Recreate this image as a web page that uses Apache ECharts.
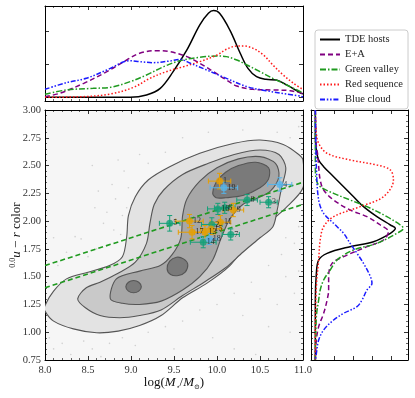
<!DOCTYPE html>
<html>
<head>
<meta charset="utf-8">
<script src="https://cdn.jsdelivr.net/npm/echarts@6/dist/echarts.min.js"></script>
<style>
html, body { margin: 0; padding: 0; background: #fff; }
#chart { width: 415px; height: 398px; }
</style>
</head>
<body>
<div id="chart"></div>
<script>
// top panel: stellar mass distributions, [log M, density]
const topTDE = [[8.0,0.003],[8.99,0.003],[9.18,0.038],[9.34,0.139],[9.49,0.391],[9.65,0.72],[9.80,1.10],[9.90,1.275],[9.96,1.316],[10.03,1.275],[10.15,1.02],[10.27,0.67],[10.36,0.442],[10.46,0.316],[10.57,0.275],[10.69,0.265],[10.81,0.19],[10.98,0.063],[11.0,0.055]];
const topEA = [[8.0,0.013],[8.17,0.063],[8.45,0.215],[8.72,0.391],[8.95,0.568],[9.10,0.67],[9.30,0.71],[9.45,0.695],[9.65,0.619],[9.80,0.518],[9.96,0.391],[10.11,0.265],[10.23,0.174],[10.42,0.124],[10.65,0.114],[10.85,0.103],[11.0,0.06]];
const topGV = [[8.0,0.048],[8.25,0.114],[8.56,0.139],[8.76,0.154],[8.99,0.24],[9.18,0.341],[9.38,0.467],[9.57,0.558],[9.80,0.609],[10.0,0.629],[10.11,0.619],[10.23,0.568],[10.35,0.492],[10.5,0.391],[10.65,0.29],[10.81,0.19],[11.0,0.07]];
const topRS = [[8.0,0.003],[8.45,0.013],[8.76,0.053],[9.03,0.154],[9.22,0.29],[9.41,0.391],[9.61,0.467],[9.80,0.543],[10.0,0.644],[10.11,0.73],[10.23,0.78],[10.31,0.78],[10.42,0.745],[10.54,0.644],[10.65,0.492],[10.77,0.341],[10.89,0.215],[11.0,0.12]];
const topBC = [[8.0,0.124],[8.25,0.225],[8.48,0.291],[8.72,0.417],[8.99,0.558],[9.10,0.543],[9.26,0.528],[9.45,0.553],[9.57,0.578],[9.69,0.518],[9.88,0.417],[10.11,0.29],[10.35,0.164],[10.57,0.103],[10.81,0.053],[11.0,0.013]];

// right panel: colour distributions, [density, u-r]
const sideTDE = [[0.013,3.0],[0.013,2.75],[0.04,2.64],[0.1,2.55],[0.23,2.49],[0.49,2.40],[0.75,2.31],[1.01,2.22],[1.27,2.13],[1.62,2.04],[1.97,1.965],[2.1,1.935],[1.97,1.89],[1.53,1.815],[0.92,1.77],[0.32,1.71],[0.1,1.65],[0.04,1.53],[0.013,1.29],[0.013,0.75]];
const sideEA = [[0.013,3.0],[0.04,2.67],[0.07,2.61],[0.1,2.49],[0.14,2.37],[0.23,2.28],[0.49,2.19],[0.92,2.10],[1.36,2.04],[1.71,1.965],[1.92,1.905],[1.79,1.83],[1.36,1.77],[0.75,1.68],[0.45,1.62],[0.36,1.50],[0.36,1.38],[0.32,1.29],[0.23,1.17],[0.1,1.05],[0.04,0.93],[0.013,0.75]];
const sideGV = [[0.013,3.0],[0.013,2.49],[0.04,2.37],[0.14,2.31],[0.49,2.25],[0.92,2.19],[1.36,2.13],[1.88,2.04],[2.23,1.965],[2.31,1.935],[2.14,1.89],[1.62,1.80],[1.01,1.74],[0.58,1.65],[0.40,1.56],[0.23,1.47],[0.14,1.38],[0.10,1.29],[0.04,1.14],[0.013,0.75]];
const sideRS = [[0.013,3.0],[0.04,2.79],[0.10,2.70],[0.32,2.61],[0.92,2.55],[1.62,2.505],[1.97,2.46],[2.05,2.37],[1.79,2.22],[1.18,2.13],[0.49,2.04],[0.23,1.95],[0.14,1.83],[0.10,1.65],[0.04,1.41],[0.013,0.99],[0.013,0.75]];
const sideBC = [[0.013,3.0],[0.04,2.49],[0.10,2.19],[0.23,2.07],[0.49,1.98],[0.75,1.89],[0.92,1.80],[1.10,1.71],[1.27,1.62],[1.45,1.50],[1.49,1.44],[1.36,1.38],[1.23,1.29],[1.10,1.23],[0.75,1.17],[0.49,1.11],[0.23,1.02],[0.10,0.93],[0.04,0.81],[0.013,0.75]];

const groupNames = ['TDE hosts', 'E+A', 'Green valley', 'Red sequence', 'Blue cloud'];

// density contours of the comparison galaxy sample, [log M, u-r]
const contourL1 = [[8.0,1.24],[8.1,1.37],[8.25,1.48],[8.5,1.54],[8.75,1.6],[8.9,1.68],[8.95,1.86],[8.97,2.05],[9.05,2.22],[9.2,2.37],[9.45,2.49],[9.8,2.61],[10.2,2.7],[10.5,2.73],[10.77,2.69],[10.95,2.6],[11.0,2.55],[11.0,2.3],[10.8,2.12],[10.55,1.95],[10.38,1.82],[10.15,1.6],[9.88,1.44],[9.6,1.31],[9.35,1.15],[9.1,1.06],[8.85,1.01],[8.6,0.995],[8.33,1.03],[8.1,1.1],[8.0,1.19]];
const contourL2 = [[8.38,1.30],[8.48,1.40],[8.64,1.45],[8.85,1.53],[9.05,1.63],[9.18,1.8],[9.22,1.98],[9.27,2.15],[9.38,2.28],[9.6,2.42],[9.9,2.52],[10.2,2.6],[10.5,2.64],[10.72,2.6],[10.8,2.48],[10.75,2.3],[10.7,2.1],[10.65,1.95],[10.5,1.85],[10.3,1.72],[10.1,1.58],[9.85,1.45],[9.6,1.33],[9.35,1.2],[9.1,1.15],[8.87,1.13],[8.64,1.15],[8.47,1.22]];
const contourL3 = [[8.76,1.30],[8.83,1.48],[9.1,1.55],[9.34,1.6],[9.48,1.7],[9.58,1.85],[9.6,2.05],[9.65,2.2],[9.8,2.36],[10.0,2.48],[10.25,2.56],[10.5,2.58],[10.68,2.52],[10.72,2.4],[10.62,2.27],[10.45,2.2],[10.3,2.15],[10.15,2.02],[10.05,1.85],[9.95,1.65],[9.8,1.5],[9.6,1.38],[9.35,1.28],[9.1,1.25],[8.9,1.26]];
const blobA = [[8.94,1.41],[8.97,1.45],[9.03,1.465],[9.09,1.45],[9.12,1.41],[9.09,1.37],[9.03,1.355],[8.97,1.37]];
const blobB = [[9.42,1.57],[9.45,1.64],[9.53,1.675],[9.61,1.66],[9.66,1.61],[9.63,1.54],[9.55,1.51],[9.46,1.52]];
const blobC = [[9.95,2.25],[9.99,2.35],[10.1,2.44],[10.25,2.5],[10.45,2.53],[10.6,2.48],[10.6,2.38],[10.5,2.3],[10.3,2.23],[10.1,2.21],[9.99,2.21]];
const contourShapes = [contourL1, contourL2, contourL3, blobA, blobB, blobC];
const contourFills = ['#e3e3e3', '#c9c9c9', '#a7a7a7', '#7a7a7a', '#7a7a7a', '#7a7a7a'];

// faint individual galaxies outside the contours
const fieldGalaxies = [[8.85,2.55],[8.55,2.50],[8.92,2.45],[8.78,2.33],[8.97,2.30],[8.62,2.27],[8.82,2.20],[8.58,2.12],[8.72,2.08],[8.9,2.05],[8.95,2.12],[8.68,1.98],[8.8,1.92],[8.88,1.88],[8.42,1.84],[8.35,1.86],[8.25,1.72],[8.6,1.75],[8.5,1.68],[8.15,1.6],[8.1,1.85],[9.2,2.52],[9.4,2.62],[9.1,2.6],[9.6,2.75],[9.9,2.8],[10.3,2.82],[10.7,2.8],[10.85,2.75],[10.95,2.85],[8.05,0.95],[8.1,0.85],[8.2,0.9],[8.3,0.8],[8.45,0.92],[8.55,0.85],[8.75,0.9],[8.9,0.95],[9.05,0.88],[9.2,1.0],[9.4,1.05],[9.6,1.1],[9.8,1.2],[10.0,1.25],[10.2,1.35],[10.4,1.45],[10.6,1.6],[10.75,1.7],[10.9,1.8],[10.8,1.5],[10.95,1.55],[10.5,1.3],[10.3,1.15],[10.7,1.25],[10.9,1.35],[10.6,1.05],[10.85,1.0],[9.95,0.95],[10.2,0.85],[10.45,0.8],[9.5,0.85],[8.65,0.78],[10.95,1.95],[10.8,1.85],[11.0,2.0]];

// green valley boundaries
const fitX = [8.0, 11.0];
const fitUpperY = [1.6, 2.35];
const fitLowerY = [1.4, 2.15];

// TDE hosts: [log M, u-r, err M, err u-r], with labels
const orangeHosts = [[10.03,2.36,0.13,0.07],[10.19,2.10,0.12,0.06],[9.68,2.00,0.16,0.06],[10.04,1.99,0.12,0.06],[9.71,1.90,0.16,0.06],[9.86,1.90,0.12,0.06],[9.93,1.93,0.12,0.05]];
const orangeLabels = ['1', '9', '12', '11', '17', '13', '15'];
const greenHosts = [[10.35,2.19,0.12,0.05],[10.60,2.17,0.10,0.05],[10.01,2.11,0.12,0.05],[10.09,2.12,0.12,0.05],[9.45,1.98,0.12,0.07],[9.94,1.97,0.12,0.06],[9.84,1.81,0.15,0.05],[10.16,1.88,0.10,0.05]];
const greenLabels = ['8', '3', '16', '6', '5', '2', '14', '7'];
const blueHosts = [[10.08,2.30,0.16,0.05],[10.73,2.33,0.14,0.06],[9.91,1.84,0.10,0.05]];
const blueLabels = ['19', '4', '18'];

const serif = 'Liberation Serif';
const chart = echarts.init(document.getElementById('chart'));

function frameAxis(gridIndex, position, min, max, extra) {
    return Object.assign({
        type: 'value', gridIndex, position, min, max,
        axisLine: { show: true, onZero: false, lineStyle: { color: '#000', width: 1 } },
        axisTick: { show: true, inside: true, length: 4, lineStyle: { color: '#000', width: 0.8 } },
        minorTick: { show: true, splitNumber: 5, length: 2, lineStyle: { color: '#000', width: 0.6 } },
        axisLabel: { show: false },
        splitLine: { show: false }
    }, extra || {});
}

const massAxis = { interval: 0.5 };
const colourAxis = { interval: 0.25 };
const topDensity = {
    axisTick: { show: true, inside: true, length: 4, customValues: [0, 0.5, 1.0], lineStyle: { color: '#000', width: 0.8 } },
    minorTick: { show: false }
};
const sideDensity = {
    axisTick: { show: true, inside: true, length: 4, customValues: [0, 0.5, 1.0, 1.5, 2.0], lineStyle: { color: '#000', width: 0.8 } },
    minorTick: { show: false }
};

const xAxes = [
    frameAxis(0, 'bottom', 8, 11, massAxis),
    frameAxis(0, 'top', 8, 11, massAxis),
    frameAxis(1, 'bottom', 8, 11, Object.assign({}, massAxis, {
        axisLabel: { show: true, fontFamily: serif, fontSize: 10.5, color: '#333', margin: 5, formatter: v => v.toFixed(1) },
        name: 'log({i|M}{sub|⋆}/{i|M}{sub|⊙})',
        nameLocation: 'middle', nameGap: 15, nameMoveOverlap: false,
        nameTextStyle: {
            fontFamily: serif, fontSize: 13, color: '#111', lineHeight: 16,
            rich: {
                i: { fontFamily: serif, fontSize: 13, fontStyle: 'italic', lineHeight: 16 },
                sub: { fontFamily: 'DejaVu Serif', fontSize: 7, verticalAlign: 'bottom', lineHeight: 16 }
            }
        }
    })),
    frameAxis(1, 'top', 8, 11, massAxis),
    frameAxis(2, 'bottom', -0.1, 2.43, sideDensity),
    frameAxis(2, 'top', -0.1, 2.43, sideDensity)
];

const yAxes = [
    frameAxis(0, 'left', -0.053, 1.386, topDensity),
    frameAxis(0, 'right', -0.053, 1.386, topDensity),
    frameAxis(1, 'left', 0.75, 3.0, Object.assign({}, colourAxis, {
        axisLabel: { show: true, fontFamily: serif, fontSize: 10.5, color: '#333', margin: 4, formatter: v => v.toFixed(2) },
        name: '{sup|0.0}{i|u} − {i|r} color',
        nameLocation: 'middle', nameGap: 20, nameRotate: 90, nameMoveOverlap: false,
        nameTextStyle: {
            fontFamily: serif, fontSize: 13, color: '#111', lineHeight: 16,
            rich: {
                i: { fontFamily: serif, fontSize: 13, fontStyle: 'italic', lineHeight: 16 },
                sup: { fontFamily: serif, fontSize: 8, verticalAlign: 'top', lineHeight: 16 }
            }
        }
    })),
    frameAxis(1, 'right', 0.75, 3.0, colourAxis),
    frameAxis(2, 'left', 0.75, 3.0, colourAxis),
    frameAxis(2, 'right', 0.75, 3.0, colourAxis)
];

const kdeStyles = [
    { color: '#000000', type: 'solid' },
    { color: '#800080', type: [5, 3] },
    { color: '#1f9a1f', type: [6, 2, 1.5, 2] },
    { color: '#ff1a1a', type: [1.5, 2] },
    { color: '#1a1aff', type: [5, 1.8, 1.5, 1.8, 1.5, 1.8] }
];

function kdeSeries(name, data, idx, xi, yi) {
    return {
        name, type: 'line', xAxisIndex: xi, yAxisIndex: yi, data,
        symbol: 'none', smooth: 0.35, silent: true, z: 3,
        lineStyle: { color: kdeStyles[idx].color, type: kdeStyles[idx].type, width: 1.5 },
        itemStyle: { color: kdeStyles[idx].color }
    };
}

const topSets = [topTDE, topEA, topGV, topRS, topBC];
const sideSets = [sideTDE, sideEA, sideGV, sideRS, sideBC];
const series = [];
topSets.forEach((d, i) => series.push(kdeSeries(groupNames[i], d, i, 0, 0)));
sideSets.forEach((d, i) => series.push(kdeSeries(groupNames[i], d, i, 4, 4)));

// contours
series.push({
    type: 'custom', xAxisIndex: 2, yAxisIndex: 2, clip: true, silent: true, z: 1,
    data: contourShapes.map((s, i) => [s[0][0], s[0][1], i]),
    renderItem: function (params, api) {
        const i = api.value(2);
        const pts = contourShapes[i].map(p => api.coord(p));
        return {
            type: 'polygon',
            shape: { points: pts, smooth: 0.3 },
            style: { fill: contourFills[i], stroke: '#555', lineWidth: 1.1 }
        };
    }
});

series.push({
    type: 'scatter', xAxisIndex: 2, yAxisIndex: 2, silent: true, z: 2,
    data: fieldGalaxies, symbolSize: 1.6,
    itemStyle: { color: 'rgba(140,140,140,0.45)' }
});

series.push({
    type: 'line', xAxisIndex: 2, yAxisIndex: 2, silent: true, z: 3, symbol: 'none',
    data: fitX.map((x, i) => [x, fitUpperY[i]]),
    lineStyle: { color: '#1f9a1f', type: [5, 3], width: 1.6 }
});
series.push({
    type: 'line', xAxisIndex: 2, yAxisIndex: 2, silent: true, z: 3, symbol: 'none',
    data: fitX.map((x, i) => [x, fitLowerY[i]]),
    lineStyle: { color: '#1f9a1f', type: [5, 3], width: 1.6 }
});

function errorSeries(data, color) {
    return {
        type: 'custom', xAxisIndex: 2, yAxisIndex: 2, silent: true, z: 4,
        data, itemStyle: { color },
        renderItem: function (params, api) {
            const x = api.value(0), y = api.value(1), xe = api.value(2), ye = api.value(3);
            const l = api.coord([x - xe, y]), r = api.coord([x + xe, y]);
            const b = api.coord([x, y - ye]), t = api.coord([x, y + ye]);
            const c = 2.5;
            const style = { stroke: color, lineWidth: 1 };
            const seg = (x1, y1, x2, y2) => ({ type: 'line', shape: { x1, y1, x2, y2 }, style });
            return {
                type: 'group', children: [
                    seg(l[0], l[1], r[0], r[1]),
                    seg(b[0], b[1], t[0], t[1]),
                    seg(l[0], l[1] - c, l[0], l[1] + c),
                    seg(r[0], r[1] - c, r[0], r[1] + c),
                    seg(t[0] - c, t[1], t[0] + c, t[1]),
                    seg(b[0] - c, b[1], b[0] + c, b[1])
                ]
            };
        }
    };
}

function pointSeries(data, labels, color) {
    return {
        type: 'scatter', xAxisIndex: 2, yAxisIndex: 2, silent: true, z: 5,
        data: data.map((d, i) => ({ value: [d[0], d[1]], name: labels[i] })),
        symbolSize: 7, itemStyle: { color },
        label: { show: true, position: 'right', distance: 0, formatter: '{b}', fontFamily: serif, fontSize: 8, color: '#111' }
    };
}

series.push(errorSeries(greenHosts, '#14a078'));
series.push(errorSeries(orangeHosts, '#e69f00'));
series.push(errorSeries(blueHosts, '#56b4e9'));
series.push(pointSeries(greenHosts, greenLabels, '#14a078'));
series.push(pointSeries(orangeHosts, orangeLabels, '#e69f00'));
series.push(pointSeries(blueHosts, blueLabels, '#56b4e9'));

chart.setOption({
    animation: false,
    backgroundColor: '#fff',
    grid: [
        { left: 45, top: 6, width: 258, height: 95, show: true, backgroundColor: '#fff', borderWidth: 0, containLabel: false, outerBoundsMode: 'none' },
        { left: 45, top: 110, width: 258, height: 250, show: true, backgroundColor: '#f6f6f6', borderWidth: 0, containLabel: false, outerBoundsMode: 'none' },
        { left: 311, top: 110, width: 97, height: 250, show: true, backgroundColor: '#fff', borderWidth: 0, containLabel: false, outerBoundsMode: 'none' }
    ],
    xAxis: xAxes,
    yAxis: yAxes,
    legend: {
        data: groupNames, orient: 'vertical', left: 315, top: 30,
        itemWidth: 20, itemHeight: 9, itemGap: 4,
        padding: [4, 5, 4, 4],
        itemStyle: { opacity: 0 },
        backgroundColor: '#fff', borderColor: '#cccccc', borderWidth: 1, borderRadius: 3,
        textStyle: { fontFamily: serif, fontSize: 10.5, color: '#222' },
        selectedMode: false
    },
    series
});
</script>
</body>
</html>
